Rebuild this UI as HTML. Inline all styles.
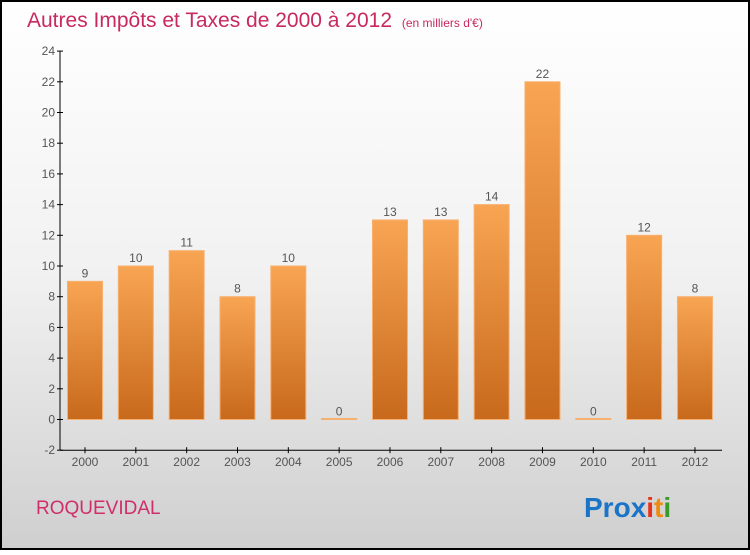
<!DOCTYPE html>
<html><head><meta charset="utf-8"><style>
body{margin:0;width:750px;height:550px;overflow:hidden;font-family:"Liberation Sans",sans-serif}
</style></head><body>
<svg id="c" width="750" height="550" xmlns="http://www.w3.org/2000/svg">
<defs>
<linearGradient id="bg" x1="0" y1="0" x2="0" y2="1"><stop offset="0" stop-color="#ffffff"/><stop offset="0.5" stop-color="#f1f1f1"/><stop offset="1" stop-color="#cfcfcf"/></linearGradient>
<linearGradient id="bar" x1="0" y1="0" x2="0" y2="1"><stop offset="0" stop-color="#f8a553"/><stop offset="1" stop-color="#c8691c"/></linearGradient>
</defs>
<rect x="1" y="1" width="748" height="548" fill="url(#bg)" stroke="#000" stroke-width="2"/>
<text x="27" y="27" font-size="21" fill="#c8295f">Autres Impôts et Taxes de 2000 à 2012 <tspan font-size="12" dx="4">(en milliers d'€)</tspan></text>
<text x="36" y="514" font-size="19" fill="#d02e6a">ROQUEVIDAL</text>
<text x="584" y="517" font-size="28" font-weight="bold"><tspan fill="#1a74c8">Pro</tspan><tspan fill="#1a74c8">x</tspan><tspan fill="#e8321c">i</tspan><tspan fill="#f08a10">t</tspan><tspan fill="#3a9a2a">i</tspan></text>
<g id="plot"></g>
</svg>
<script>
const categories=["2000","2001","2002","2003","2004","2005","2006","2007","2008","2009","2010","2011","2012"];
const values=[9,10,11,8,10,0,13,13,14,22,0,12,8];
const ticks=[-2,0,2,4,6,8,10,12,14,16,18,20,22,24];
const NS="http://www.w3.org/2000/svg";
const g=document.getElementById('plot');
function y(v){return 419.5-(v)*15.35;}
function x(i){return 85+i*50.83;}
function mk(t,a){const e=document.createElementNS(NS,t);for(const k in a)e.setAttribute(k,a[k]);g.appendChild(e);return e;}
const ax=mk('line',{x1:60,y1:y(24),x2:60,y2:y(-2),stroke:'#000'});


ticks.forEach(t=>{
 const tk=mk('line',{x1:57,x2:63,y1:y(t),y2:y(t),stroke:'#000'});
 
 
 const tx=mk('text',{x:55,y:y(t)+4,'text-anchor':'end','font-size':12,fill:'#555'});
 tx.textContent=t;
 
 
});
const bx=mk('line',{x1:60,x2:722,y1:y(-2),y2:y(-2),stroke:'#000'});


categories.forEach((c,i)=>{
 const v=values[i];
 const top=y(v),h=Math.max(y(0)-top,1);
 const r=mk('rect',{x:x(i)-17.5,y:v>0?top:y(0)-1,width:35,height:h,fill:'url(#bar)',stroke:'#f7b070','stroke-width':1});
 
 
 const vl=mk('text',{x:x(i),y:top-4,'text-anchor':'middle','font-size':12,fill:'#555'});
 vl.textContent=v;
 
 
 const tk=mk('line',{x1:x(i),x2:x(i),y1:y(-2)-3,y2:y(-2)+3,stroke:'#000'});
 
 
 const xl=mk('text',{x:x(i),y:466,'text-anchor':'middle','font-size':12,fill:'#555'});
 xl.textContent=c;
 
 
});
</script>
</body></html>
